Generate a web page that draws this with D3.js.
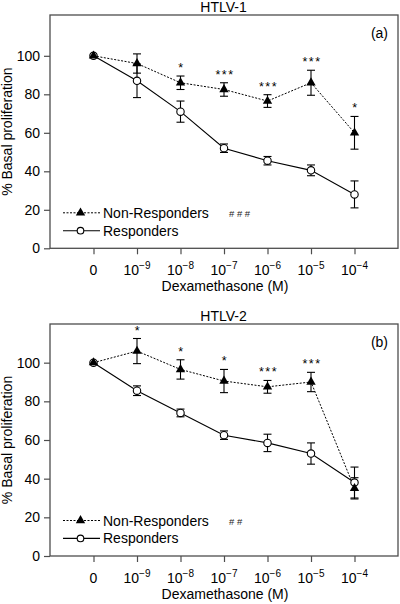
<!DOCTYPE html>
<html>
<head>
<meta charset="utf-8">
<script src="https://cdn.jsdelivr.net/npm/d3@7"></script>
<style>
  html, body { margin: 0; padding: 0; background: #fff; }
  svg { display: block; font-family: "Liberation Sans", Arial, Helvetica, sans-serif; }
</style>
</head>
<body>
<script>
// ---- Data ----
const exponents = [null, -9, -8, -7, -6, -5, -4];   // x categories: 0, 10^-9 ... 10^-4
const yTicks = [0, 20, 40, 60, 80, 100];

// Panel (a) HTLV-1
const a_nonResp = [100, 96, 86, 82.5, 76.5, 86, 60];
const a_nonRespErr = [0, 5, 3.5, 3.5, 3.3, 6.5, 8.5];
const a_resp = [100, 87, 71, 52, 45.5, 40.5, 28];
const a_respErr = [0, 8.7, 5.5, 2.2, 2.2, 2.8, 7];
const a_stars = ["", "", "*", "***", "***", "***", "*"];
const a_hash = "# # #";

// Panel (b) HTLV-2
const b_nonResp = [100, 106, 96.5, 90.5, 87.5, 90, 35];
const b_nonRespErr = [0, 6.5, 5, 6, 3.3, 5, 5.5];
const b_resp = [100, 85.5, 74, 62.5, 58.5, 53, 38];
const b_respErr = [0, 2.5, 2, 2.2, 4.5, 5.5, 8];
const b_stars = ["", "*", "*", "*", "***", "***", ""];
const b_hash = "# #";

const titles = ["HTLV-1", "HTLV-2"];
const tags = ["(a)", "(b)"];

// ---- Drawing ----
const W = 400, H = 604;
const svg = d3.select("body").append("svg").attr("width", W).attr("height", H);

const panels = [
  {title: titles[0], tag: tags[0], nr: a_nonResp, nrE: a_nonRespErr, r: a_resp, rE: a_respErr, stars: a_stars, hash: a_hash,
   top: 15, bottom: 248.3, yMax: 121.2},
  {title: titles[1], tag: tags[1], nr: b_nonResp, nrE: b_nonRespErr, r: b_resp, rE: b_respErr, stars: b_stars, hash: b_hash,
   top: 324, bottom: 556, yMax: 120}
];

const left = 50, right = 398;
const x = d3.scaleLinear().domain([-1, 7]).range([left, right]);
const boxColor = "#4d4d4d";

panels.forEach(p => {
  const y = d3.scaleLinear().domain([0, p.yMax]).range([p.bottom, p.top]);
  const g = svg.append("g");

  // title
  g.append("text").attr("x", (left + right) / 2 - 0.5).attr("y", p.top - 3.5)
    .attr("text-anchor", "middle").attr("font-size", 14).text(p.title);

  // box
  g.append("rect").attr("x", left).attr("y", p.top).attr("width", right - left).attr("height", p.bottom - p.top)
    .attr("fill", "none").attr("stroke", boxColor).attr("stroke-width", 1.3);

  // y axis
  const yAxis = d3.axisLeft(y).tickValues(yTicks).tickSize(6).tickPadding(4);
  const ya = g.append("g").attr("transform", `translate(${left},0)`).call(yAxis);
  ya.select(".domain").remove();
  ya.selectAll("line").attr("stroke", boxColor).attr("stroke-width", 1.2);
  ya.selectAll("text").attr("font-size", 14).attr("font-family", null).attr("fill", "#000");

  // x axis
  const idx = d3.range(exponents.length);
  const xAxis = d3.axisBottom(x).tickValues(idx).tickSize(6).tickFormat(() => "");
  const xa = g.append("g").attr("transform", `translate(0,${p.bottom})`).call(xAxis);
  xa.select(".domain").remove();
  xa.selectAll("line").attr("stroke", boxColor).attr("stroke-width", 1.2);
  // custom tick labels with superscripts
  idx.forEach(i => {
    const e = exponents[i];
    const t = g.append("text").attr("x", x(i)).attr("y", p.bottom + 26.5)
      .attr("text-anchor", "middle").attr("font-size", 14);
    if (e === null) {
      t.text("0");
    } else {
      t.append("tspan").text("10");
      t.append("tspan").attr("font-size", 10).attr("dy", -6).text("\u2212" + Math.abs(e));
    }
  });

  // x axis title
  g.append("text").attr("x", (left + right) / 2 + 1).attr("y", p.bottom + 43)
    .attr("text-anchor", "middle").attr("font-size", 14).text("Dexamethasone (M)");

  // y axis title
  g.append("text").attr("transform", `translate(11.5,${(p.top + p.bottom) / 2}) rotate(-90)`)
    .attr("text-anchor", "middle").attr("font-size", 14).text("% Basal proliferation");

  // tag
  g.append("text").attr("x", 388).attr("y", p.top + 23).attr("text-anchor", "end")
    .attr("font-size", 14).text(p.tag);

  // lines
  const line = d3.line().x((d, i) => x(i)).y(d => y(d));
  g.append("path").datum(p.nr).attr("d", line).attr("fill", "none")
    .attr("stroke", "#000").attr("stroke-width", 1).attr("stroke-dasharray", "2,1.5");
  g.append("path").datum(p.r).attr("d", line).attr("fill", "none")
    .attr("stroke", "#000").attr("stroke-width", 1.1);

  // error bars
  const capW = 4;
  function errBars(vals, errs) {
    vals.forEach((v, i) => {
      if (!errs[i]) return;
      const cx = x(i), y1 = y(v + errs[i]), y2 = y(v - errs[i]);
      g.append("line").attr("x1", cx).attr("x2", cx).attr("y1", y1).attr("y2", y2)
        .attr("stroke", "#000").attr("stroke-width", 1.1);
      [y1, y2].forEach(yy => g.append("line").attr("x1", cx - capW).attr("x2", cx + capW)
        .attr("y1", yy).attr("y2", yy).attr("stroke", "#000").attr("stroke-width", 1.1));
    });
  }
  errBars(p.r, p.rE);
  errBars(p.nr, p.nrE);

  // markers
  const tri = d3.symbol().type(d3.symbolTriangle).size(38);
  p.r.forEach((v, i) => {
    g.append("circle").attr("cx", x(i)).attr("cy", y(v)).attr("r", 3.7)
      .attr("fill", "#fff").attr("stroke", "#000").attr("stroke-width", 1.1);
  });
  p.nr.forEach((v, i) => {
    g.append("path").attr("d", tri).attr("transform", `translate(${x(i)},${y(v)})`).attr("fill", "#000");
  });

  // significance stars
  p.stars.forEach((s, i) => {
    if (!s) return;
    const yy = y(p.nr[i] + p.nrE[i]);
    g.append("text").attr("x", x(i) + 1).attr("y", yy - 4).attr("text-anchor", "middle")
      .attr("font-size", 12.5).attr("letter-spacing", 1.5).text(s);
  });

  // legend
  const lx1 = 63, lx2 = 100, ly1 = p.bottom - 35.5, ly2 = p.bottom - 17.6;
  g.append("line").attr("x1", lx1).attr("x2", lx2).attr("y1", ly1).attr("y2", ly1)
    .attr("stroke", "#000").attr("stroke-width", 1).attr("stroke-dasharray", "2,1.5");
  g.append("path").attr("d", tri).attr("transform", `translate(${(lx1 + lx2) / 2 - 1},${ly1})`).attr("fill", "#000");
  g.append("text").attr("x", 103).attr("y", ly1 + 5).attr("font-size", 14).text("Non-Responders");
  g.append("text").attr("x", 229).attr("y", ly1 + 4).attr("font-size", 9.5).attr("fill", "#222").text(p.hash);

  g.append("line").attr("x1", lx1).attr("x2", lx2).attr("y1", ly2).attr("y2", ly2)
    .attr("stroke", "#000").attr("stroke-width", 1.1);
  g.append("circle").attr("cx", (lx1 + lx2) / 2 - 1).attr("cy", ly2).attr("r", 3.3)
    .attr("fill", "#fff").attr("stroke", "#000").attr("stroke-width", 1.1);
  g.append("text").attr("x", 103).attr("y", ly2 + 5).attr("font-size", 14).text("Responders");
});
</script>
</body>
</html>
